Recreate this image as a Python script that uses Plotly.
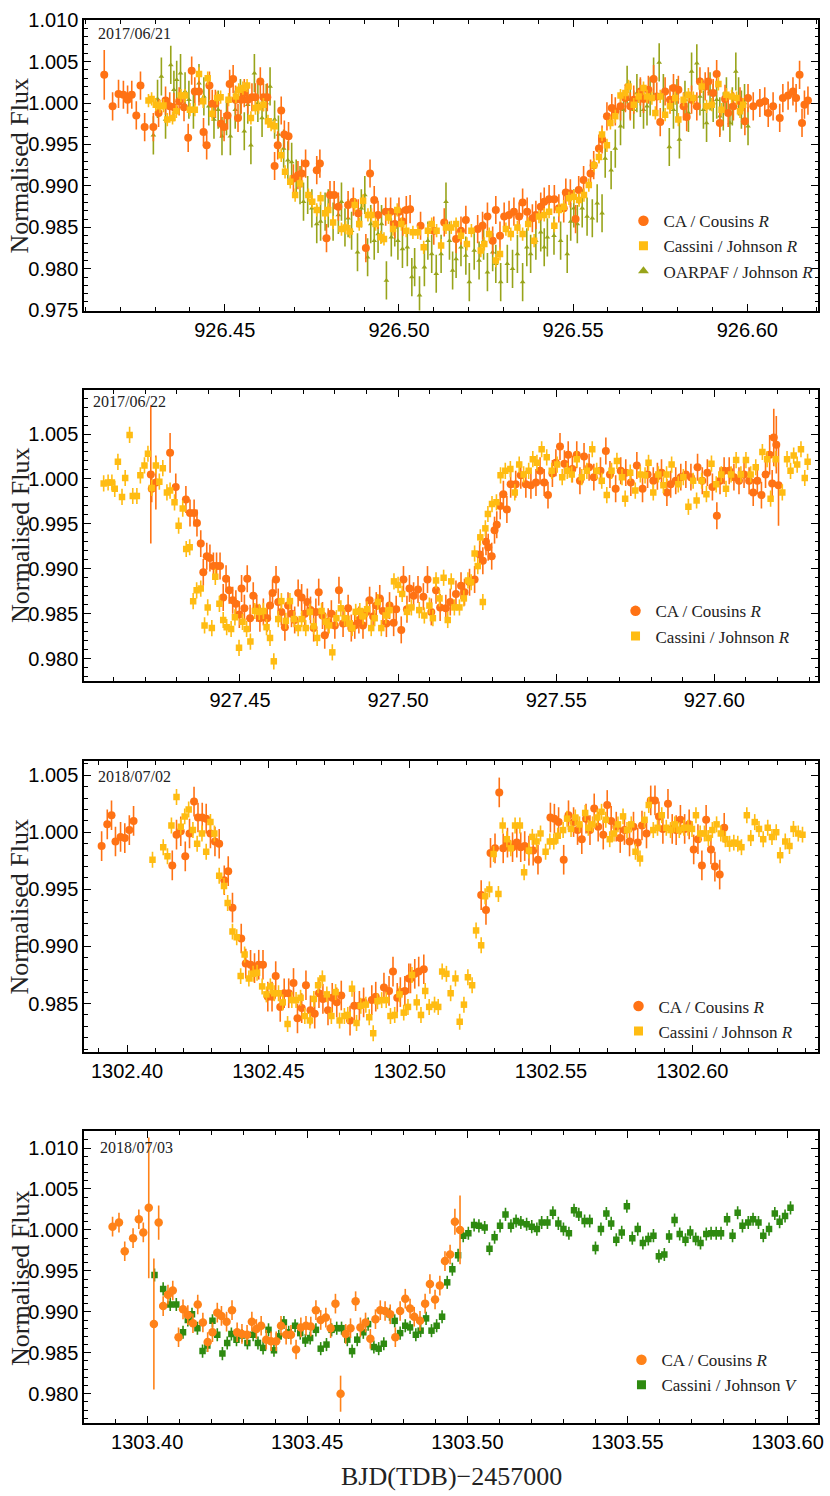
import plotly.graph_objects as go

# ---------------- Panel 1 : 2017/06/21 ----------------
ca1_t = [926.4154, 926.4178, 926.4195, 926.4209, 926.4221, 926.4233, 926.4246, 926.4258, 926.4270, 926.4295,
         926.4310, 926.4330, 926.4342, 926.4354, 926.4369, 926.4383, 926.4395, 926.4405, 926.4414, 926.4426,
         926.4439, 926.4448, 926.4456, 926.4464, 926.4473, 926.4489, 926.4498, 926.4508, 926.4514, 926.4524,
         926.4531, 926.4538, 926.4547, 926.4556, 926.4566, 926.4578, 926.4588, 926.4602, 926.4611, 926.4622,
         926.4643, 926.4652, 926.4662, 926.4671, 926.4683, 926.4697, 926.4710, 926.4721, 926.4732, 926.4764,
         926.4773, 926.4792, 926.4802, 926.4814, 926.4826, 926.4854, 926.4869, 926.4883, 926.4905, 926.4917,
         926.4929, 926.4940, 926.4962, 926.4976, 926.4988, 926.5000, 926.5011, 926.5021, 926.5032, 926.5062,
         926.5100, 926.5130, 926.5164, 926.5178, 926.5192, 926.5226, 926.5240, 926.5254, 926.5269, 926.5278,
         926.5290, 926.5302, 926.5316, 926.5330, 926.5345, 926.5355, 926.5368, 926.5383, 926.5393, 926.5407,
         926.5417, 926.5431, 926.5446, 926.5459, 926.5473, 926.5479, 926.5492, 926.5507, 926.5516, 926.5530,
         926.5550, 926.5559, 926.5574, 926.5583, 926.5597, 926.5611, 926.5621, 926.5636, 926.5650, 926.5664,
         926.5674, 926.5693, 926.5702, 926.5716, 926.5731, 926.5740, 926.5750, 926.5764, 926.5778, 926.5788,
         926.5802, 926.5817, 926.5826, 926.5840, 926.5855, 926.5864, 926.5879, 926.5888, 926.5902, 926.5912,
         926.5921, 926.5936, 926.5945, 926.5960, 926.5979, 926.5993, 926.6002, 926.6017, 926.6036, 926.6050,
         926.6060, 926.6074, 926.6093, 926.6102, 926.6117, 926.6131, 926.6140, 926.6150, 926.6157, 926.6164,
         926.6174]
ca1_f = [1.0034, 0.9996, 1.0011, 1.0010, 1.0004, 1.0010, 0.9985, 1.0021, 0.9971, 0.9971,
         0.9988, 1.0003, 0.9996, 0.9995, 1.0002, 0.9995, 0.9958, 1.0039, 1.0014, 1.0014,
         0.9965, 0.9949, 1.0021, 0.9999, 0.9999, 0.9975, 0.9971, 0.9985, 1.0023, 1.0029,
         1.0004, 0.9982, 1.0004, 1.0012, 1.0004, 1.0007, 1.0007, 1.0026, 1.0007, 1.0007,
         0.9924, 0.9949, 0.9991, 0.9962, 0.9960, 0.9909, 0.9913, 0.9915, 0.9927, 0.9919,
         0.9927, 0.9837, 0.9889, 0.9889, 0.9875, 0.9877, 0.9881, 0.9867, 0.9825, 0.9915,
         0.9883, 0.9865, 0.9869, 0.9869, 0.9854, 0.9869, 0.9857, 0.9871, 0.9872, 0.9852,
         0.9846, 0.9856, 0.9836, 0.9846, 0.9859, 0.9848, 0.9852, 0.9863, 0.9834, 0.9871,
         0.9840, 0.9863, 0.9865, 0.9869, 0.9863, 0.9880, 0.9869, 0.9861, 0.9865, 0.9875,
         0.9881, 0.9884, 0.9884, 0.9873, 0.9873, 0.9892, 0.9891, 0.9860, 0.9895, 0.9907,
         0.9915, 0.9925, 0.9945, 0.9956, 0.9984, 0.9994, 0.9990, 0.9996, 1.0006, 0.9996,
         1.0004, 1.0014, 1.0005, 1.0016, 1.0029, 1.0008, 0.9977, 1.0014, 1.0004, 1.0018,
         1.0016, 0.9996, 0.9983, 1.0004, 0.9996, 1.0026, 1.0020, 1.0026, 1.0012, 1.0035,
         0.9976, 1.0005, 0.9988, 0.9996, 1.0002, 0.9978, 1.0006, 0.9996, 1.0000, 1.0002,
         0.9988, 0.9996, 0.9982, 1.0006, 1.0009, 1.0014, 1.0006, 1.0034, 0.9976, 0.9998,
         1.0003]
ca1_err = 0.0017
ca1_err_big = {926.4154: 0.0030}

cas1_t = [926.4281, 926.4290, 926.4302, 926.4314, 926.4324, 926.4335, 926.4350, 926.4361, 926.4374, 926.4386,
          926.4400, 926.4414, 926.4426, 926.4438, 926.4451, 926.4464, 926.4478, 926.4488, 926.4511, 926.4532,
          926.4540, 926.4552, 926.4564, 926.4575, 926.4588, 926.4597, 926.4611, 926.4624, 926.4633, 926.4643,
          926.4662, 926.4673, 926.4688, 926.4702, 926.4716, 926.4740, 926.4751, 926.4764, 926.4775, 926.4788,
          926.4797, 926.4811, 926.4835, 926.4847, 926.4859, 926.4873, 926.4886, 926.4897, 926.4911, 926.4921,
          926.4933, 926.4948, 926.4957, 926.4970, 926.4983, 926.4995, 926.5007, 926.5021, 926.5040, 926.5054,
          926.5071, 926.5083, 926.5094, 926.5108, 926.5121, 926.5135, 926.5150, 926.5164, 926.5178, 926.5195,
          926.5208, 926.5235, 926.5245, 926.5259, 926.5278, 926.5290, 926.5307, 926.5321, 926.5340, 926.5355,
          926.5371, 926.5388, 926.5402, 926.5417, 926.5431, 926.5446, 926.5459, 926.5473, 926.5488, 926.5502,
          926.5517, 926.5531, 926.5545, 926.5560, 926.5574, 926.5583, 926.5597, 926.5607, 926.5621, 926.5636,
          926.5650, 926.5659, 926.5674, 926.5688, 926.5702, 926.5712, 926.5726, 926.5736, 926.5750, 926.5764,
          926.5778, 926.5793, 926.5802, 926.5817, 926.5831, 926.5845, 926.5869, 926.5883, 926.5898, 926.5917,
          926.5926, 926.5940, 926.5955, 926.5969, 926.5979, 926.5988]
cas1_f = [1.0003, 1.0005, 0.9998, 0.9996, 0.9997, 0.9980, 0.9982, 0.9990, 1.0009, 1.0009,
          0.9992, 0.9992, 1.0035, 1.0002, 1.0030, 0.9987, 1.0006, 1.0007, 1.0004, 1.0008,
          1.0016, 1.0018, 1.0021, 0.9982, 0.9994, 0.9995, 0.9998, 0.9978, 0.9974, 0.9972,
          0.9937, 0.9917, 0.9905, 0.9889, 0.9903, 0.9889, 0.9881, 0.9871, 0.9885, 0.9867,
          0.9871, 0.9856, 0.9848, 0.9850, 0.9845, 0.9877, 0.9854, 0.9882, 0.9865, 0.9865,
          0.9854, 0.9838, 0.9836, 0.9862, 0.9848, 0.9871, 0.9854, 0.9846, 0.9844, 0.9844,
          0.9826, 0.9846, 0.9854, 0.9846, 0.9828, 0.9850, 0.9850, 0.9854, 0.9840, 0.9830,
          0.9846, 0.9822, 0.9830, 0.9842, 0.9810, 0.9818, 0.9848, 0.9842, 0.9850, 0.9842,
          0.9854, 0.9834, 0.9863, 0.9865, 0.9869, 0.9852, 0.9871, 0.9875, 0.9885, 0.9887,
          0.9883, 0.9889, 0.9901, 0.9925, 0.9935, 0.9962, 0.9949, 0.9976, 0.9984, 1.0009,
          1.0012, 1.0020, 0.9998, 1.0008, 1.0018, 1.0008, 1.0006, 0.9988, 1.0008, 0.9986,
          0.9996, 1.0006, 0.9980, 1.0004, 1.0010, 1.0006, 1.0020, 0.9996, 0.9998, 1.0023,
          0.9992, 1.0010, 1.0008, 1.0006, 0.9990, 0.9998]
cas1_err = 0.0008

oar_t = [926.4295, 926.4307, 926.4318, 926.4330, 926.4345, 926.4354, 926.4362, 926.4373, 926.4386, 926.4397,
         926.4410, 926.4426, 926.4440, 926.4454, 926.4469, 926.4481, 926.4492, 926.4505, 926.4516, 926.4530,
         926.4545, 926.4556, 926.4566, 926.4575, 926.4585, 926.4595, 926.4607, 926.4619, 926.4630, 926.4643,
         926.4654, 926.4669, 926.4681, 926.4692, 926.4705, 926.4716, 926.4726, 926.4738, 926.4750, 926.4764,
         926.4775, 926.4788, 926.4797, 926.4811, 926.4826, 926.4835, 926.4845, 926.4854, 926.4864, 926.4881,
         926.4892, 926.4902, 926.4910, 926.4919, 926.4929, 926.4940, 926.4950, 926.4964, 926.4978, 926.4988,
         926.4997, 926.5010, 926.5024, 926.5037, 926.5045, 926.5059, 926.5073, 926.5083, 926.5094, 926.5107,
         926.5121, 926.5135, 926.5145, 926.5154, 926.5164, 926.5178, 926.5192, 926.5202, 926.5216, 926.5230,
         926.5243, 926.5254, 926.5269, 926.5278, 926.5292, 926.5311, 926.5326, 926.5340, 926.5355, 926.5367,
         926.5378, 926.5393, 926.5407, 926.5417, 926.5426, 926.5445, 926.5464, 926.5483, 926.5493, 926.5502,
         926.5512, 926.5526, 926.5540, 926.5555, 926.5569, 926.5583, 926.5592, 926.5609, 926.5621, 926.5636,
         926.5645, 926.5655, 926.5664, 926.5674, 926.5683, 926.5693, 926.5702, 926.5712, 926.5721, 926.5731,
         926.5747, 926.5759, 926.5776, 926.5788, 926.5798, 926.5805, 926.5821, 926.5831, 926.5840, 926.5855,
         926.5864, 926.5874, 926.5883, 926.5893, 926.5902, 926.5912, 926.5921, 926.5931, 926.5940, 926.5950,
         926.5957, 926.5967, 926.5975, 926.5983, 926.5992, 926.6002]
oar_f = [0.9961, 1.0005, 1.0032, 0.9980, 1.0046, 1.0016, 1.0028, 1.0036, 1.0014, 1.0004,
         0.9992, 1.0024, 1.0008, 0.9996, 0.9980, 0.9992, 0.9960, 0.9984, 0.9960, 0.9992,
         1.0006, 0.9966, 0.9998, 0.9949, 1.0036, 1.0000, 0.9982, 1.0000, 1.0020, 0.9980,
         0.9962, 0.9945, 0.9931, 0.9929, 0.9909, 0.9901, 0.9881, 0.9889, 0.9873, 0.9854,
         0.9857, 0.9869, 0.9873, 0.9857, 0.9865, 0.9881, 0.9850, 0.9861, 0.9846, 0.9820,
         0.9873, 0.9889, 0.9814, 0.9854, 0.9834, 0.9842, 0.9854, 0.9786, 0.9838, 0.9850,
         0.9834, 0.9824, 0.9826, 0.9790, 0.9802, 0.9768, 0.9802, 0.9834, 0.9818, 0.9794,
         0.9818, 0.9881, 0.9834, 0.9798, 0.9812, 0.9826, 0.9816, 0.9784, 0.9822, 0.9810,
         0.9834, 0.9796, 0.9820, 0.9806, 0.9784, 0.9806, 0.9800, 0.9818, 0.9784, 0.9826,
         0.9818, 0.9834, 0.9844, 0.9826, 0.9838, 0.9840, 0.9834, 0.9818, 0.9857, 0.9873,
         0.9854, 0.9873, 0.9863, 0.9861, 0.9879, 0.9867, 0.9933, 0.9919, 0.9945, 0.9972,
         0.9992, 1.0022, 1.0004, 0.9992, 1.0012, 1.0006, 0.9992, 0.9996, 1.0008, 1.0032,
         1.0049, 1.0012, 0.9947, 0.9992, 1.0006, 0.9956, 1.0004, 0.9988, 1.0038, 1.0048,
         1.0008, 0.9992, 0.9976, 1.0014, 1.0000, 1.0004, 0.9984, 0.9990, 1.0008, 0.9976,
         0.9996, 1.0038, 1.0008, 0.9992, 1.0000, 0.9972]
oar_err = 0.0023

# ---------------- Panel 2 : 2017/06/22 ----------------
ca2_t = [927.4218, 927.4221, 927.4234, 927.4279, 927.4297, 927.4329, 927.4342, 927.4355, 927.4364, 927.4376,
         927.4384, 927.4395, 927.4405, 927.4416, 927.4426, 927.4437, 927.4447, 927.4456, 927.4466, 927.4477,
         927.4487, 927.4498, 927.4505, 927.4514, 927.4523, 927.4532, 927.4542, 927.4553, 927.4563, 927.4574,
         927.4586, 927.4595, 927.4603, 927.4614, 927.4621, 927.4631, 927.4642, 927.4652, 927.4663, 927.4673,
         927.4684, 927.4695, 927.4705, 927.4713, 927.4723, 927.4733, 927.4740, 927.4749, 927.4761, 927.4768,
         927.4779, 927.4789, 927.4800, 927.4813, 927.4826, 927.4842, 927.4852, 927.4863, 927.4876, 927.4889,
         927.4900, 927.4910, 927.4921, 927.4931, 927.4942, 927.4952, 927.4963, 927.4973, 927.4986, 927.4994,
         927.5010, 927.5017, 927.5028, 927.5036, 927.5049, 927.5063, 927.5080, 927.5093, 927.5105, 927.5120,
         927.5133, 927.5151, 927.5165, 927.5183, 927.5199, 927.5210, 927.5226, 927.5242, 927.5258, 927.5268,
         927.5278, 927.5285, 927.5296, 927.5305, 927.5312, 927.5323, 927.5333, 927.5344, 927.5356, 927.5372,
         927.5388, 927.5404, 927.5420, 927.5436, 927.5449, 927.5462, 927.5474, 927.5488, 927.5499, 927.5512,
         927.5526, 927.5538, 927.5551, 927.5565, 927.5575, 927.5588, 927.5604, 927.5619, 927.5640, 927.5657,
         927.5670, 927.5688, 927.5704, 927.5720, 927.5736, 927.5755, 927.5773, 927.5789, 927.5807, 927.5820,
         927.5833, 927.5850, 927.5862, 927.5878, 927.5894, 927.5910, 927.5926, 927.5947, 927.5962, 927.5978,
         927.5994, 927.6008, 927.6018, 927.6031, 927.6047, 927.6062, 927.6078, 927.6094, 927.6110, 927.6123,
         927.6136, 927.6149, 927.6162, 927.6175, 927.6183, 927.6188, 927.6196, 927.6203]
ca2_f = [1.0005, 0.9989, 0.9996, 1.0029, 0.9991, 0.9977, 0.9962, 0.9962, 0.9951, 0.9928,
         0.9896, 0.9914, 0.9912, 0.9903, 0.9903, 0.9903, 0.9868, 0.9889, 0.9876, 0.9865,
         0.9861, 0.9849, 0.9878, 0.9856, 0.9889, 0.9845, 0.9870, 0.9856, 0.9845, 0.9852,
         0.9845, 0.9859, 0.9873, 0.9888, 0.9863, 0.9852, 0.9835, 0.9859, 0.9850, 0.9843,
         0.9873, 0.9868, 0.9850, 0.9863, 0.9854, 0.9834, 0.9852, 0.9874, 0.9848, 0.9826,
         0.9841, 0.9850, 0.9837, 0.9876, 0.9839, 0.9856, 0.9834, 0.9837, 0.9843, 0.9837,
         0.9852, 0.9865, 0.9847, 0.9859, 0.9867, 0.9853, 0.9839, 0.9859, 0.9840, 0.9855,
         0.9832, 0.9888, 0.9855, 0.9878, 0.9870, 0.9877, 0.9869, 0.9888, 0.9852, 0.9876,
         0.9857, 0.9856, 0.9863, 0.9872, 0.9881, 0.9874, 0.9885, 0.9888, 0.9916, 0.9909,
         0.9930, 0.9924, 0.9914, 0.9943, 0.9949, 0.9970, 0.9983, 0.9966, 0.9994, 0.9994,
         1.0004, 0.9994, 0.9993, 0.9996, 1.0009, 0.9996, 0.9982, 1.0006, 1.0018, 1.0036,
         1.0017, 1.0027, 1.0011, 1.0027, 0.9998, 1.0025, 1.0013, 1.0002, 1.0009, 1.0031,
         1.0005, 0.9989, 1.0009, 1.0007, 0.9996, 1.0015, 0.9989, 1.0005, 0.9998, 1.0003,
         1.0007, 0.9985, 0.9994, 0.9998, 1.0002, 1.0005, 1.0002, 1.0013, 0.9998, 1.0007,
         0.9991, 0.9959, 0.9998, 1.0009, 1.0009, 1.0002, 0.9998, 1.0005, 0.9998, 0.9985,
         0.9998, 0.9982, 1.0005, 1.0027, 0.9995, 1.0046, 1.0038, 0.9993]
ca2_err = 0.0015
ca2_err_big = {927.4218: 0.0077, 927.4234: 0.0030, 927.4279: 0.0022,
               927.6175: 0.0022, 927.6188: 0.0032, 927.6196: 0.0032, 927.6203: 0.0045}

cas2_t = [927.4069, 927.4083, 927.4095, 927.4104, 927.4114, 927.4127, 927.4137, 927.4151, 927.4161, 927.4174,
          927.4185, 927.4198, 927.4209, 927.4221, 927.4234, 927.4245, 927.4256, 927.4269, 927.4279, 927.4293,
          927.4306, 927.4319, 927.4330, 927.4341, 927.4352, 927.4363, 927.4376, 927.4388, 927.4398, 927.4411,
          927.4422, 927.4435, 927.4447, 927.4458, 927.4472, 927.4484, 927.4497, 927.4508, 927.4521, 927.4533,
          927.4547, 927.4561, 927.4574, 927.4584, 927.4595, 927.4607, 927.4621, 927.4631, 927.4645, 927.4658,
          927.4671, 927.4684, 927.4695, 927.4708, 927.4721, 927.4733, 927.4744, 927.4758, 927.4771, 927.4782,
          927.4792, 927.4805, 927.4819, 927.4831, 927.4845, 927.4855, 927.4866, 927.4879, 927.4889, 927.4902,
          927.4915, 927.4926, 927.4936, 927.4947, 927.4961, 927.4973, 927.4987, 927.5000, 927.5013, 927.5028,
          927.5042, 927.5067, 927.5083, 927.5099, 927.5110, 927.5120, 927.5131, 927.5144, 927.5157, 927.5168,
          927.5178, 927.5194, 927.5208, 927.5221, 927.5231, 927.5242, 927.5252, 927.5260, 927.5268, 927.5276,
          927.5284, 927.5297, 927.5311, 927.5324, 927.5339, 927.5355, 927.5369, 927.5383, 927.5397, 927.5413,
          927.5426, 927.5439, 927.5454, 927.5470, 927.5486, 927.5503, 927.5519, 927.5535, 927.5549, 927.5565,
          927.5581, 927.5597, 927.5614, 927.5628, 927.5644, 927.5660, 927.5675, 927.5692, 927.5708, 927.5718,
          927.5734, 927.5750, 927.5766, 927.5781, 927.5792, 927.5807, 927.5823, 927.5839, 927.5849, 927.5865,
          927.5886, 927.5902, 927.5918, 927.5933, 927.5944, 927.5960, 927.5975, 927.5991, 927.6006, 927.6022,
          927.6037, 927.6053, 927.6069, 927.6084, 927.6100, 927.6115, 927.6131, 927.6152, 927.6167, 927.6178,
          927.6194, 927.6215, 927.6230, 927.6241, 927.6251, 927.6262, 927.6274, 927.6286, 927.6295]
cas2_f = [0.9995, 0.9996, 0.9996, 0.9989, 1.0019, 0.9980, 1.0001, 1.0049, 0.9981, 0.9981,
          1.0004, 1.0015, 1.0028, 0.9990, 1.0015, 0.9997, 1.0012, 0.9985, 0.9987, 0.9974,
          0.9948, 0.9967, 0.9922, 0.9924, 0.9864, 0.9876, 0.9878, 0.9837, 0.9857, 0.9834,
          0.9891, 0.9861, 0.9843, 0.9835, 0.9833, 0.9846, 0.9812, 0.9841, 0.9833, 0.9819,
          0.9853, 0.9852, 0.9853, 0.9835, 0.9823, 0.9797, 0.9844, 0.9864, 0.9842, 0.9864,
          0.9844, 0.9834, 0.9844, 0.9834, 0.9852, 0.9836, 0.9823, 0.9853, 0.9841, 0.9837,
          0.9807, 0.9845, 0.9856, 0.9845, 0.9839, 0.9834, 0.9852, 0.9853, 0.9847, 0.9855,
          0.9834, 0.9845, 0.9863, 0.9834, 0.9848, 0.9854, 0.9886, 0.9882, 0.9872, 0.9852,
          0.9857, 0.9854, 0.9848, 0.9859, 0.9845, 0.9887, 0.9867, 0.9890, 0.9843, 0.9886,
          0.9857, 0.9857, 0.9867, 0.9887, 0.9885, 0.9917, 0.9903, 0.9935, 0.9863, 0.9945,
          0.9961, 0.9972, 0.9974, 1.0004, 1.0009, 1.0011, 0.9985, 1.0016, 1.0005, 1.0009,
          1.0022, 1.0018, 1.0033, 1.0024, 1.0009, 1.0016, 1.0002, 1.0009, 1.0005, 1.0022,
          1.0002, 1.0009, 1.0033, 1.0009, 0.9998, 0.9982, 1.0009, 1.0020, 1.0002, 0.9978,
          1.0007, 0.9987, 1.0005, 1.0004, 1.0018, 0.9985, 1.0005, 0.9993, 1.0005, 1.0016,
          0.9994, 1.0002, 0.9969, 0.9998, 0.9976, 0.9998, 0.9983, 1.0017, 0.9994, 1.0005,
          0.9989, 1.0005, 1.0021, 1.0005, 1.0021, 1.0005, 1.0013, 1.0030, 1.0022, 0.9978,
          1.0022, 0.9985, 1.0022, 1.0009, 1.0026, 1.0016, 1.0033, 1.0001, 1.0019]
cas2_err = 0.0009

# ---------------- Panel 3 : 2018/07/02 ----------------
ca3_t = [1302.3910, 1302.3930, 1302.3945, 1302.3959, 1302.3977, 1302.3992, 1302.4008, 1302.4023, 1302.4160, 1302.4175,
         1302.4190, 1302.4206, 1302.4221, 1302.4237, 1302.4251, 1302.4266, 1302.4280, 1302.4295, 1302.4311, 1302.4326,
         1302.4344, 1302.4358, 1302.4373, 1302.4404, 1302.4420, 1302.4437, 1302.4451, 1302.4466, 1302.4481, 1302.4498,
         1302.4513, 1302.4526, 1302.4542, 1302.4556, 1302.4572, 1302.4589, 1302.4603, 1302.4618, 1302.4633, 1302.4649,
         1302.4664, 1302.4679, 1302.4693, 1302.4711, 1302.4726, 1302.4742, 1302.4758, 1302.4789, 1302.4804, 1302.4822,
         1302.4837, 1302.4866, 1302.4880, 1302.4909, 1302.4927, 1302.4941, 1302.4956, 1302.4967, 1302.4983, 1302.4997,
         1302.5003, 1302.5018, 1302.5032, 1302.5050, 1302.5253, 1302.5270, 1302.5286, 1302.5302, 1302.5317, 1302.5331,
         1302.5346, 1302.5364, 1302.5379, 1302.5393, 1302.5407, 1302.5422, 1302.5437, 1302.5454, 1302.5498, 1302.5512,
         1302.5527, 1302.5545, 1302.5562, 1302.5580, 1302.5594, 1302.5609, 1302.5624, 1302.5638, 1302.5653, 1302.5667,
         1302.5685, 1302.5699, 1302.5713, 1302.5731, 1302.5745, 1302.5760, 1302.5778, 1302.5792, 1302.5807, 1302.5822,
         1302.5838, 1302.5853, 1302.5868, 1302.5882, 1302.5896, 1302.5914, 1302.5929, 1302.5943, 1302.5958, 1302.5973,
         1302.5989, 1302.6005, 1302.6020, 1302.6034, 1302.6049, 1302.6066, 1302.6080, 1302.6097, 1302.6113]
ca3_f = [0.9988, 1.0007, 1.0015, 0.9992, 0.9996, 0.9995, 1.0002, 1.0010, 0.9971, 0.9998,
         1.0001, 0.9979, 0.9999, 1.0027, 1.0013, 1.0013, 1.0012, 0.9999, 0.9992, 0.9990,
         0.9958, 0.9966, 0.9934, 0.9907, 0.9885, 0.9884, 0.9881, 0.9884, 0.9884, 0.9856,
         0.9856, 0.9874, 0.9847, 0.9859, 0.9859, 0.9868, 0.9837, 0.9846, 0.9866, 0.9844,
         0.9841, 0.9859, 0.9854, 0.9844, 0.9855, 0.9851, 0.9857, 0.9835, 0.9848, 0.9848,
         0.9851, 0.9853, 0.9856, 0.9864, 0.9861, 0.9878, 0.9855, 0.9860, 0.9861, 0.9872,
         0.9872, 0.9876, 0.9878, 0.9880, 0.9945, 0.9932, 0.9982, 0.9986, 1.0035, 0.9986,
         0.9991, 0.9987, 0.9991, 0.9987, 0.9988, 0.9984, 0.9984, 0.9976, 1.0013, 1.0012,
         1.0009, 0.9976, 1.0015, 1.0009, 1.0002, 0.9994, 1.0012, 1.0002, 1.0021, 1.0005,
         0.9998, 1.0024, 1.0010, 1.0005, 0.9995, 1.0002, 0.9992, 1.0005, 0.9991, 1.0006,
         0.9999, 1.0028, 1.0028, 1.0014, 1.0003, 1.0025, 1.0003, 1.0002, 1.0011, 1.0003,
         1.0007, 0.9985, 0.9994, 0.9971, 1.0011, 0.9985, 0.9970, 0.9963, 1.0004]
ca3_err = 0.0013

cas3_t = [1302.4090, 1302.4128, 1302.4143, 1302.4157, 1302.4175, 1302.4190, 1302.4204, 1302.4218, 1302.4233, 1302.4248,
          1302.4265, 1302.4280, 1302.4295, 1302.4309, 1302.4326, 1302.4343, 1302.4356, 1302.4373, 1302.4388, 1302.4402,
          1302.4416, 1302.4431, 1302.4446, 1302.4460, 1302.4478, 1302.4493, 1302.4507, 1302.4521, 1302.4536, 1302.4551,
          1302.4568, 1302.4583, 1302.4598, 1302.4614, 1302.4629, 1302.4647, 1302.4661, 1302.4676, 1302.4691, 1302.4707,
          1302.4723, 1302.4738, 1302.4752, 1302.4769, 1302.4781, 1302.4796, 1302.4812, 1302.4827, 1302.4845, 1302.4857,
          1302.4871, 1302.4886, 1302.4901, 1302.4917, 1302.4932, 1302.4947, 1302.4964, 1302.4979, 1302.4994, 1302.5008,
          1302.5025, 1302.5040, 1302.5055, 1302.5069, 1302.5088, 1302.5101, 1302.5115, 1302.5130, 1302.5145, 1302.5162,
          1302.5177, 1302.5192, 1302.5206, 1302.5221, 1302.5235, 1302.5253, 1302.5267, 1302.5282, 1302.5297, 1302.5314,
          1302.5329, 1302.5344, 1302.5358, 1302.5373, 1302.5390, 1302.5405, 1302.5422, 1302.5434, 1302.5449, 1302.5463,
          1302.5481, 1302.5496, 1302.5510, 1302.5524, 1302.5543, 1302.5557, 1302.5571, 1302.5586, 1302.5601, 1302.5621,
          1302.5632, 1302.5647, 1302.5664, 1302.5679, 1302.5694, 1302.5708, 1302.5723, 1302.5737, 1302.5755, 1302.5769,
          1302.5784, 1302.5799, 1302.5815, 1302.5831, 1302.5846, 1302.5862, 1302.5877, 1302.5892, 1302.5908, 1302.5923,
          1302.5938, 1302.5954, 1302.5970, 1302.5985, 1302.5999, 1302.6013, 1302.6028, 1302.6043, 1302.6057, 1302.6071,
          1302.6086, 1302.6101, 1302.6117, 1302.6132, 1302.6147, 1302.6161, 1302.6174, 1302.6193, 1302.6207, 1302.6221,
          1302.6236, 1302.6251, 1302.6267, 1302.6282, 1302.6297, 1302.6311, 1302.6329, 1302.6344, 1302.6358, 1302.6375,
          1302.6390]
cas3_f = [0.9976, 0.9987, 0.9979, 1.0006, 1.0031, 1.0005, 1.0014, 1.0020, 1.0002, 0.9990,
          0.9999, 0.9983, 1.0009, 0.9999, 0.9962, 0.9953, 0.9938, 0.9913, 0.9908, 0.9874,
          0.9893, 0.9872, 0.9876, 0.9877, 0.9865, 0.9858, 0.9865, 0.9859, 0.9859, 0.9851,
          0.9832, 0.9853, 0.9853, 0.9855, 0.9839, 0.9835, 0.9854, 0.9866, 0.9872, 0.9858,
          0.9839, 0.9860, 0.9835, 0.9839, 0.9840, 0.9863, 0.9833, 0.9848, 0.9849, 0.9838,
          0.9824, 0.9852, 0.9853, 0.9853, 0.9839, 0.9840, 0.9858, 0.9842, 0.9847, 0.9875,
          0.9851, 0.9840, 0.9861, 0.9847, 0.9849, 0.9847, 0.9878, 0.9876, 0.9859, 0.9872,
          0.9834, 0.9849, 0.9873, 0.9866, 0.9914, 0.9901, 0.9944, 0.9950, 0.9981, 0.9946,
          1.0006, 0.9994, 0.9986, 1.0006, 1.0006, 0.9965, 0.9984, 0.9996, 0.9992, 0.9999,
          0.9983, 0.9992, 0.9992, 0.9997, 1.0002, 1.0012, 1.0003, 1.0013, 1.0007, 1.0017,
          1.0004, 1.0007, 1.0013, 1.0018, 1.0011, 0.9994, 0.9999, 1.0007, 1.0014, 1.0002,
          1.0007, 0.9983, 0.9977, 1.0011, 1.0024, 1.0002, 1.0004, 1.0015, 1.0004, 1.0002,
          1.0007, 1.0002, 1.0004, 1.0004, 1.0003, 1.0015, 0.9999, 0.9999, 0.9995, 1.0002,
          1.0007, 0.9999, 0.9994, 0.9990, 0.9991, 0.9990, 0.9987, 1.0015, 0.9995, 1.0009,
          1.0003, 0.9994, 1.0004, 0.9996, 1.0000, 0.9980, 0.9992, 0.9988, 1.0003, 0.9999,
          0.9998]
cas3_err = 0.0007

# ---------------- Panel 4 : 2018/07/03 ----------------
ca4_t = [1303.3892, 1303.3912, 1303.3930, 1303.3956, 1303.3974, 1303.3988, 1303.4005, 1303.4021, 1303.4036, 1303.4050,
         1303.4065, 1303.4080, 1303.4098, 1303.4112, 1303.4127, 1303.4143, 1303.4158, 1303.4174, 1303.4189, 1303.4204,
         1303.4219, 1303.4232, 1303.4248, 1303.4265, 1303.4281, 1303.4296, 1303.4312, 1303.4327, 1303.4341, 1303.4356,
         1303.4372, 1303.4387, 1303.4403, 1303.4418, 1303.4434, 1303.4449, 1303.4465, 1303.4480, 1303.4496, 1303.4511,
         1303.4527, 1303.4542, 1303.4558, 1303.4573, 1303.4588, 1303.4604, 1303.4620, 1303.4635, 1303.4651, 1303.4666,
         1303.4682, 1303.4697, 1303.4713, 1303.4728, 1303.4743, 1303.4759, 1303.4775, 1303.4790, 1303.4806, 1303.4821,
         1303.4834, 1303.4852, 1303.4868, 1303.4883, 1303.4899, 1303.4914, 1303.4930, 1303.4946, 1303.4961, 1303.4977]
ca4_f = [1.0004, 1.0009, 0.9974, 0.9990, 1.0013, 0.9997, 1.0027, 0.9885, 1.0009, 0.9907,
         0.9921, 0.9926, 0.9869, 0.9903, 0.9896, 0.9886, 0.9909, 0.9887, 0.9863, 0.9875,
         0.9899, 0.9895, 0.9888, 0.9902, 0.9875, 0.9873, 0.9872, 0.9888, 0.9879, 0.9883,
         0.9866, 0.9864, 0.9864, 0.9883, 0.9872, 0.9872, 0.9854, 0.9881, 0.9883, 0.9882,
         0.9902, 0.9890, 0.9893, 0.9880, 0.9910, 0.9800, 0.9873, 0.9880, 0.9913, 0.9881,
         0.9887, 0.9867, 0.9891, 0.9902, 0.9901, 0.9897, 0.9869, 0.9901, 0.9916, 0.9904,
         0.9894, 0.9889, 0.9910, 0.9934, 0.9915, 0.9932, 0.9962, 0.9970, 1.0010, 1.0000]
ca4_err = 0.0012
ca4_err_big = {1303.4005: 0.0086, 1303.4021: 0.0080, 1303.4036: 0.0021,
               1303.4604: 0.0022, 1303.4961: 0.0016, 1303.4977: 0.0042}

cv_t = [1303.4023, 1303.4050, 1303.4072, 1303.4091, 1303.4112, 1303.4127, 1303.4140, 1303.4157, 1303.4173, 1303.4188,
        1303.4204, 1303.4219, 1303.4235, 1303.4250, 1303.4263, 1303.4279, 1303.4296, 1303.4313, 1303.4331, 1303.4346,
        1303.4362, 1303.4379, 1303.4396, 1303.4411, 1303.4427, 1303.4442, 1303.4462, 1303.4478, 1303.4494, 1303.4509,
        1303.4527, 1303.4542, 1303.4560, 1303.4576, 1303.4592, 1303.4607, 1303.4625, 1303.4640, 1303.4656, 1303.4675,
        1303.4690, 1303.4708, 1303.4723, 1303.4739, 1303.4757, 1303.4773, 1303.4790, 1303.4806, 1303.4821, 1303.4839,
        1303.4854, 1303.4871, 1303.4888, 1303.4904, 1303.4921, 1303.4937, 1303.4953, 1303.4971, 1303.4987, 1303.5003,
        1303.5021, 1303.5036, 1303.5054, 1303.5069, 1303.5085, 1303.5102, 1303.5119, 1303.5136, 1303.5152, 1303.5167,
        1303.5185, 1303.5201, 1303.5217, 1303.5232, 1303.5250, 1303.5267, 1303.5284, 1303.5300, 1303.5317, 1303.5333,
        1303.5348, 1303.5366, 1303.5382, 1303.5400, 1303.5417, 1303.5434, 1303.5449, 1303.5465, 1303.5482, 1303.5498,
        1303.5515, 1303.5532, 1303.5548, 1303.5565, 1303.5581, 1303.5598, 1303.5615, 1303.5630, 1303.5647, 1303.5663,
        1303.5681, 1303.5696, 1303.5713, 1303.5728, 1303.5746, 1303.5761, 1303.5777, 1303.5792, 1303.5811, 1303.5828,
        1303.5844, 1303.5859, 1303.5877, 1303.5892, 1303.5909, 1303.5924, 1303.5942, 1303.5960, 1303.5975, 1303.5992,
        1303.6009]
cv_f = [0.9945, 0.9928, 0.9909, 0.9909, 0.9875, 0.9890, 0.9897, 0.9880, 0.9852, 0.9859,
        0.9889, 0.9872, 0.9849, 0.9862, 0.9873, 0.9866, 0.9871, 0.9862, 0.9872, 0.9862,
        0.9856, 0.9878, 0.9853, 0.9870, 0.9887, 0.9875, 0.9883, 0.9874, 0.9865, 0.9868,
        0.9878, 0.9855, 0.9860, 0.9878, 0.9880, 0.9880, 0.9866, 0.9852, 0.9866, 0.9875,
        0.9885, 0.9857, 0.9855, 0.9861, 0.9897, 0.9889, 0.9874, 0.9883, 0.9881, 0.9872,
        0.9877, 0.9892, 0.9877, 0.9883, 0.9894, 0.9936, 0.9952, 0.9969, 0.9993, 0.9996,
        1.0006, 1.0005, 1.0003, 0.9977, 0.9991, 1.0005, 1.0019, 1.0005, 1.0011, 1.0009,
        1.0007, 1.0004, 1.0001, 1.0009, 1.0009, 1.0021, 1.0008, 1.0001, 0.9996, 1.0024,
        1.0019, 1.0011, 1.0011, 0.9978, 1.0001, 1.0020, 1.0008, 0.9988, 0.9997, 1.0029,
        0.9990, 1.0001, 0.9984, 0.9989, 0.9993, 0.9968, 0.9970, 0.9992, 1.0012, 0.9995,
        0.9988, 0.9997, 0.9989, 0.9984, 0.9995, 0.9996, 0.9996, 0.9996, 1.0013, 0.9993,
        1.0021, 1.0005, 1.0009, 1.0013, 1.0009, 0.9993, 1.0001, 1.0020, 1.0010, 1.0017,
        1.0027]
cv_err = 0.0008

# ---------------- styling ----------------
ORANGE = "#FF7214"
YELLOW = "#FFBC12"
OLIVE = "#98A41A"
GREEN = "#2E8A10"
SERIF = "Liberation Serif, Times New Roman, serif"
SANS = "Liberation Sans, Arial, sans-serif"

X_DOM = [85 / 830, 824 / 830]
def ydom(top, bottom):
    return [1 - bottom / 1496, 1 - top / 1496]

panels = [
    dict(ydom=ydom(9, 304), xr=[926.4097, 926.6203], yr=[0.97497, 1.01003], date="2017/06/21"),
    dict(ydom=ydom(385, 680), xr=[927.4008, 927.6328], yr=[0.97751, 1.00986], date="2017/06/22"),
    dict(ydom=ydom(761, 1057), xr=[1302.3849, 1302.6445], yr=[0.98071, 1.00627], date="2018/07/02"),
    dict(ydom=ydom(1137, 1433), xr=[1303.3804, 1303.6095], yr=[0.97643, 1.01205], date="2018/07/03"),
]

def errs(ts, base, big=None):
    big = big or {}
    return [big.get(t, base) for t in ts]

fig = go.Figure()

LEG_SIZE = {"circle": 10.5, "square": 9, "triangle-up": 9.5}

def add(ts, fs, err, color, symbol, size, name, k, rank):
    sfx = "" if k == 1 else str(k)
    fig.add_trace(go.Scatter(
        x=ts, y=fs, mode="markers", name=name, showlegend=False,
        marker=dict(color=color, symbol=symbol, size=size, line=dict(width=0)),
        error_y=dict(type="data", array=err, visible=True, color=color, thickness=1.6, width=0),
        xaxis="x" + sfx, yaxis="y" + sfx,
    ))
    # legend-only entry (no data) with the legend's larger symbol
    fig.add_trace(go.Scatter(
        x=[None], y=[None], mode="markers", name=name, showlegend=True,
        marker=dict(color=color, symbol=symbol, size=LEG_SIZE[symbol], line=dict(width=0)),
        xaxis="x" + sfx, yaxis="y" + sfx, legend="legend" + sfx, legendrank=rank,
        legendgroup=name + sfx, hoverinfo="skip",
    ))

R = "<i>R</i>"
V = "<i>V</i>"
# panel 1
add(oar_t, oar_f, errs(oar_t, oar_err), OLIVE, "triangle-up", 5, "OARPAF / Johnson " + R, 1, 3)
add(ca1_t, ca1_f, errs(ca1_t, ca1_err, ca1_err_big), ORANGE, "circle", 8, "CA / Cousins " + R, 1, 1)
add(cas1_t, cas1_f, errs(cas1_t, cas1_err), YELLOW, "square", 6.5, "Cassini / Johnson " + R, 1, 2)
# panel 2
add(ca2_t, ca2_f, errs(ca2_t, ca2_err, ca2_err_big), ORANGE, "circle", 8, "CA / Cousins " + R, 2, 1)
add(cas2_t, cas2_f, errs(cas2_t, cas2_err), YELLOW, "square", 6.5, "Cassini / Johnson " + R, 2, 2)
# panel 3
add(ca3_t, ca3_f, errs(ca3_t, ca3_err), ORANGE, "circle", 8, "CA / Cousins " + R, 3, 1)
add(cas3_t, cas3_f, errs(cas3_t, cas3_err), YELLOW, "square", 6.5, "Cassini / Johnson " + R, 3, 2)
# panel 4
add(cv_t, cv_f, errs(cv_t, cv_err), GREEN, "square", 6.5, "Cassini / Johnson " + V, 4, 2)
add(ca4_t, ca4_f, errs(ca4_t, ca4_err, ca4_err_big), "#FF8218", "circle", 8.5, "CA / Cousins " + R, 4, 1)

layout = dict(
    width=830, height=1496, margin=dict(l=0, r=0, t=0, b=0),
    paper_bgcolor="white", plot_bgcolor="white", showlegend=True,
)

legend_pos = [(628, 195), (620, 591), (623, 992), (626, 1351)]
annotations = []
y_title_centers = [157, 532, 909, 1286]
date_pos = [(97, 23), (92, 396), (97, 777), (99, 1153)]

for i, p in enumerate(panels, start=1):
    sfx = "" if i == 1 else str(i)
    layout["xaxis" + sfx] = dict(
        domain=X_DOM, range=p["xr"], anchor="y" + sfx,
        showline=True, linecolor="black", linewidth=2, mirror="allticks",
        ticks="inside", ticklen=7, tickwidth=1, tickcolor="black",
        tick0=0, dtick=0.05, tickformat=".2f", ticklabeloverflow="allow",
        minor=dict(dtick=0.01, ticklen=4, tickwidth=1, ticks="inside", tickcolor="black"),
        showgrid=False, zeroline=False,
        tickfont=dict(family=SANS, size=20, color="black"),
    )
    layout["yaxis" + sfx] = dict(
        domain=p["ydom"], range=p["yr"], anchor="x" + sfx,
        showline=True, linecolor="black", linewidth=2, mirror="allticks",
        ticks="inside", ticklen=7, tickwidth=1, tickcolor="black",
        tick0=0, dtick=0.005, tickformat=".3f", ticklabeloverflow="allow",
        minor=dict(dtick=0.001, ticklen=3.5, tickwidth=1, ticks="inside", tickcolor="black"),
        showgrid=False, zeroline=False,
        tickfont=dict(family=SANS, size=20, color="black"),
    )
    lx, ly = legend_pos[i - 1]
    layout["legend" + sfx] = dict(
        x=lx / 830, y=1 - ly / 1496, xanchor="left", yanchor="top",
        bgcolor="rgba(0,0,0,0)", borderwidth=0, traceorder="grouped", tracegroupgap=0,
        font=dict(family=SERIF, size=17, color="#222"), itemsizing="trace", itemwidth=30,
    )
    annotations.append(dict(
        text="Normalised Flux", textangle=-90, xref="paper", yref="paper",
        x=20 / 830, y=1 - y_title_centers[i - 1] / 1496, xanchor="center", yanchor="middle",
        showarrow=False, font=dict(family=SERIF, size=26, color="#222"),
    ))
    dx, dy = date_pos[i - 1]
    annotations.append(dict(
        text=p["date"], xref="paper", yref="paper", x=dx / 830, y=1 - dy / 1496,
        xanchor="left", yanchor="middle", showarrow=False,
        font=dict(family=SERIF, size=16, color="#222"),
    ))

annotations.append(dict(
    text="BJD(TDB)\u22122457000", xref="paper", yref="paper", x=455 / 830, y=0,
    xanchor="center", yanchor="bottom", yshift=-8, showarrow=False,
    font=dict(family=SERIF, size=26, color="#222"),
))
layout["annotations"] = annotations

fig.update_layout(**layout)
fig.write_html("out.html", post_script="document.body.style.margin='0px';",
               config={"displayModeBar": False})
